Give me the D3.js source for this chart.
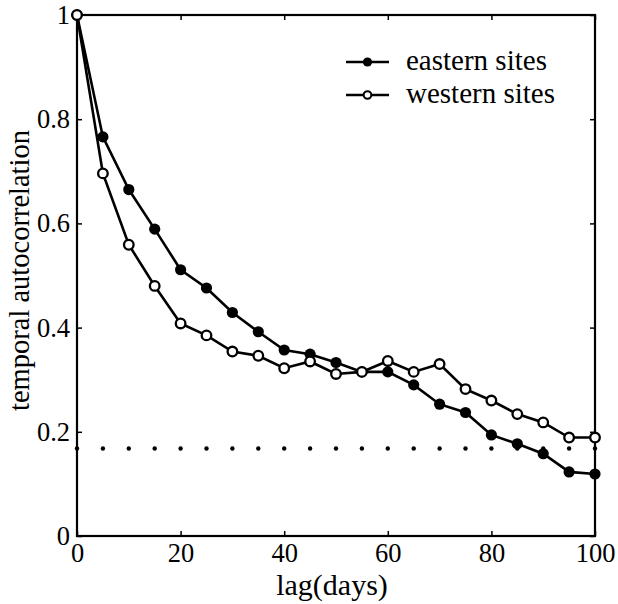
<!DOCTYPE html>
<html>
<head>
<meta charset="utf-8">
<script src="https://cdn.jsdelivr.net/npm/d3@7"></script>
<style>
  body { margin: 0; background: #fff; }
  svg text { font-family: 'Liberation Serif', 'DejaVu Serif', serif; fill: #000; }
</style>
</head>
<body>
<div id="chart"></div>
<script>
// lags in days
var lags = [0, 5, 10, 15, 20, 25, 30, 35, 40, 45, 50, 55, 60, 65, 70, 75, 80, 85, 90, 95, 100]
var eastern = [1, 0.766, 0.665, 0.589, 0.511, 0.476, 0.429, 0.392, 0.357, 0.349, 0.333, 0.315, 0.315, 0.290, 0.253, 0.237, 0.194, 0.177, 0.158, 0.123, 0.119]
var western = [1, 0.696, 0.559, 0.480, 0.408, 0.385, 0.354, 0.346, 0.322, 0.335, 0.311, 0.315, 0.336, 0.315, 0.330, 0.282, 0.260, 0.234, 0.218, 0.189, 0.189]
var threshold = 0.168
var xTicks = [0, 20, 40, 60, 80, 100]
var yTicks = [0, 0.2, 0.4, 0.6, 0.8, 1]
var seriesNames = ['eastern sites', 'western sites']

var W = 618, H = 604
var margin = {top: 15, right: 23, bottom: 68, left: 77},
    width = W - margin.left - margin.right,
    height = H - margin.top - margin.bottom

var x = d3.scaleLinear().domain([0, 100]).range([0, width])
var y = d3.scaleLinear().domain([0, 1]).range([height, 0])

var svg = d3.select('#chart').append('svg')
    .attr('width', W)
    .attr('height', H)
  .append('g')
    .attr('transform', 'translate(' + margin.left + ',' + margin.top + ')')

// frame
svg.append('rect')
    .attr('width', width).attr('height', height)
    .attr('fill', 'none').attr('stroke', '#000').attr('stroke-width', 2.2)

// inward ticks on all four sides
var tk = 5
svg.append('g').attr('transform', 'translate(0,' + height + ')')
    .call(d3.axisBottom(x).tickValues(xTicks).tickSizeInner(-tk).tickSizeOuter(0).tickPadding(7).tickFormat(d3.format('d')))
svg.append('g')
    .call(d3.axisTop(x).tickValues(xTicks).tickSizeInner(-tk).tickSizeOuter(0).tickFormat(''))
svg.append('g')
    .call(d3.axisLeft(y).tickValues(yTicks).tickSizeInner(-tk).tickSizeOuter(0).tickPadding(7).tickFormat(function(d){ return d === 0 || d === 1 ? d : d3.format('.1f')(d) }))
svg.append('g').attr('transform', 'translate(' + width + ',0)')
    .call(d3.axisRight(y).tickValues(yTicks).tickSizeInner(-tk).tickSizeOuter(0).tickFormat(''))

svg.selectAll('.domain').remove()
svg.selectAll('.tick line').attr('stroke', '#000').attr('stroke-width', 1.5)
svg.selectAll('.tick text')
    .attr('font-family', "'Liberation Serif', serif")
    .attr('font-size', '26.5px')
    .attr('fill', '#000')

// threshold dots
svg.selectAll('.thr')
    .data(lags)
  .enter().append('circle')
    .attr('cx', function(d){ return x(d) })
    .attr('cy', y(threshold))
    .attr('r', 2.2)
    .attr('fill', '#000')

var line = d3.line()
    .x(function(d, i){ return x(lags[i]) })
    .y(function(d){ return y(d) })

function drawSeries(vals, filled) {
  svg.append('path')
      .datum(vals)
      .attr('d', line)
      .attr('fill', 'none')
      .attr('stroke', '#000')
      .attr('stroke-width', 2.6)
  svg.append('g').selectAll('circle')
      .data(vals)
    .enter().append('circle')
      .attr('cx', function(d, i){ return x(lags[i]) })
      .attr('cy', function(d){ return y(d) })
      .attr('r', filled ? 5.6 : 4.8)
      .attr('fill', filled ? '#000' : '#fff')
      .attr('stroke', '#000')
      .attr('stroke-width', filled ? 0 : 2.3)
}
drawSeries(eastern, true)
drawSeries(western, false)

// legend
var legend = svg.append('g').attr('transform', 'translate(' + (346 - margin.left) + ',' + (62 - margin.top) + ')')
seriesNames.forEach(function(name, i){
  var g = legend.append('g').attr('transform', 'translate(0,' + (i * 33) + ')')
  g.append('line').attr('x1', 0).attr('x2', 43).attr('y1', 0).attr('y2', 0)
      .attr('stroke', '#000').attr('stroke-width', 2.6)
  g.append('circle').attr('cx', 21.5).attr('cy', 0).attr('r', i === 0 ? 4.6 : 3.8)
      .attr('fill', i === 0 ? '#000' : '#fff').attr('stroke', '#000').attr('stroke-width', i === 0 ? 0 : 2)
  g.append('text').attr('x', 60).attr('y', 8)
      .attr('font-size', '29px')
      .text(name)
})

// axis titles
svg.append('text')
    .attr('x', width / 2 - 4)
    .attr('y', height + 59)
    .attr('text-anchor', 'middle')
    .attr('font-size', '30px')
    .text('lag(days)')

svg.append('text')
    .attr('transform', 'translate(' + (29 - margin.left) + ',' + (height / 2 - 5) + ') rotate(-90)')
    .attr('text-anchor', 'middle')
    .attr('font-size', '28.5px')
    .text('temporal autocorrelation')
</script>
</body>
</html>
